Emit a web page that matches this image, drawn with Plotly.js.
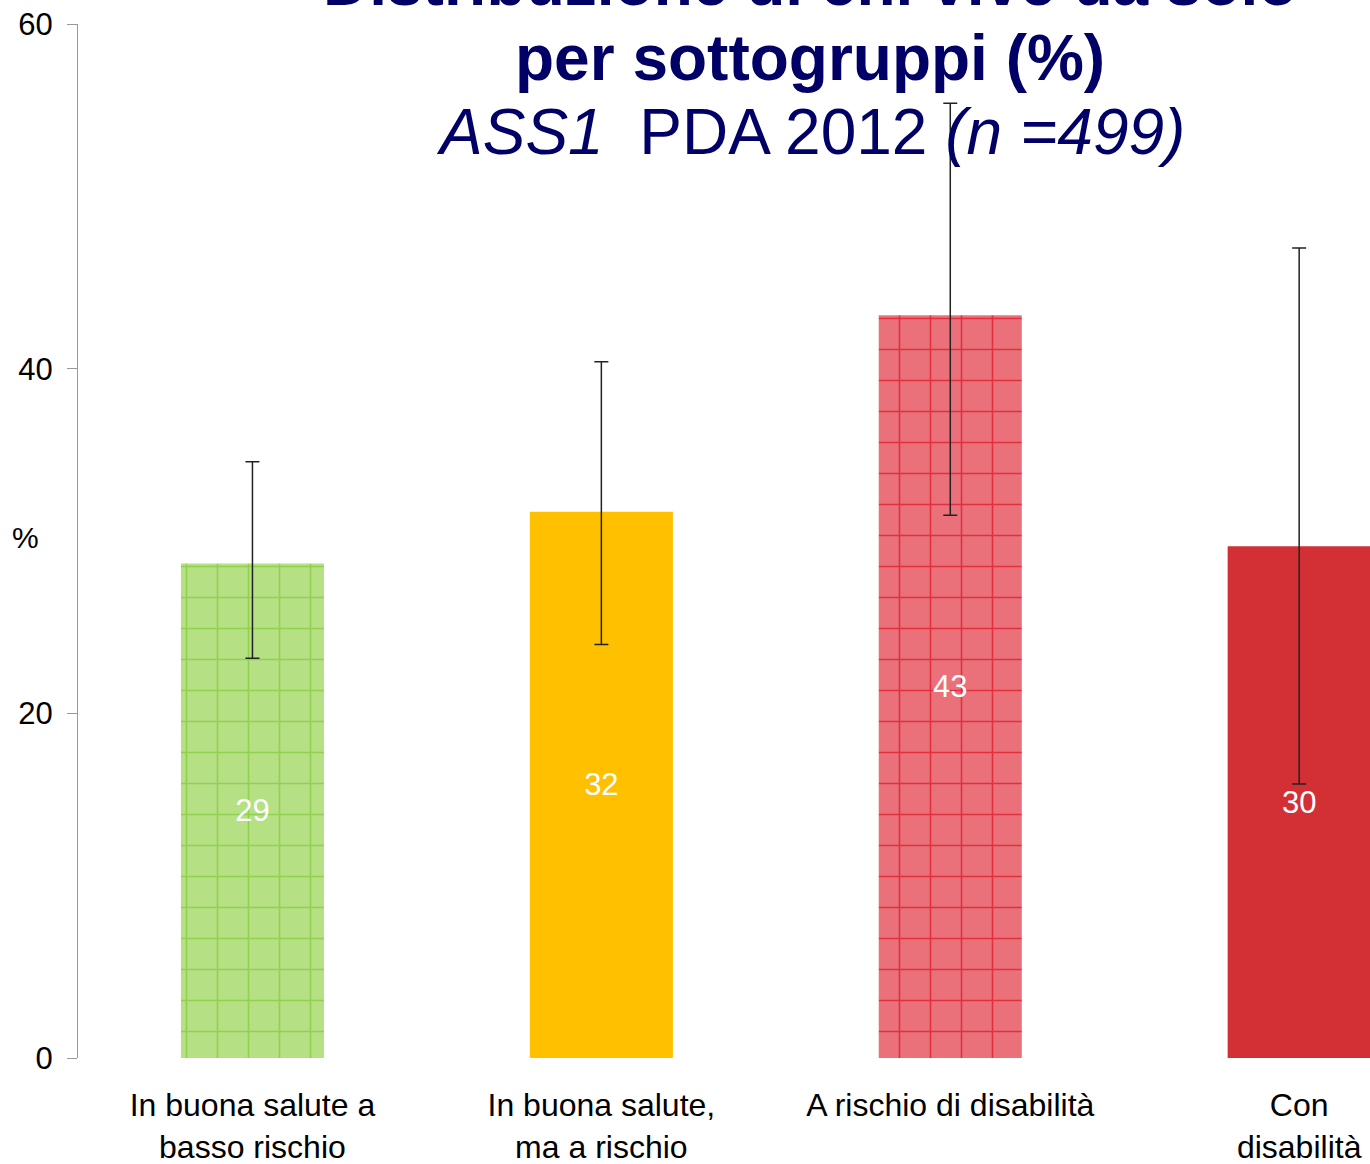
<!DOCTYPE html>
<html>
<head>
<meta charset="utf-8">
<script src="https://cdn.plot.ly/plotly-3.0.1.min.js"></script>
<style>html,body{margin:0;padding:0;background:#fff;}#chart{width:1370px;height:1164px;}</style>
</head>
<body>
<div id="chart"></div>
<script>
const categories = ["In buona salute a<br>basso rischio", "In buona salute,<br>ma a rischio", "A rischio di disabilità", "Con<br>disabilità"];
const values = [28.7, 31.7, 43.1, 29.7];
const ciLow = [23.2, 24.0, 31.5, 15.9];
const ciHigh = [34.6, 40.4, 55.4, 47.0];
const barColors = ["#b5e084", "#ffc000", "#ea7179", "#d33035"];
const patternShapes = ["+", "", "+", ""];
const patternColors = ["#92d050", "#ffc000", "#e0303e", "#d33035"];
const yTicks = [0, 20, 40, 60];
const titleLines = [
  "<b>Distribuzione di chi vive da solo</b>",
  "<b>per sottogruppi (%)</b>",
  "<i>ASS1</i>  PDA 2012 <i>(n =499)</i>"
];

const FONT = "Liberation Sans, Arial, sans-serif";

const traces = categories.map((c, i) => ({
  type: "bar",
  x: [c],
  y: [values[i]],
  width: 0.41,
  marker: {
    color: barColors[i],
    line: {width: 0},
    pattern: {shape: patternShapes[i], fgcolor: patternColors[i], bgcolor: barColors[i], fgopacity: 1, size: 31, solidity: 0.1, fillmode: "replace"}
  },
  error_y: {type: "data", symmetric: false, array: [ciHigh[i] - values[i]], arrayminus: [values[i] - ciLow[i]], color: "#222", thickness: 1.5, width: 7},
  texttemplate: "%{y:.0f}",
  textposition: "inside",
  insidetextanchor: "middle",
  textangle: 0,
  insidetextfont: {family: FONT, size: 31, color: "#ffffff"},
  hoverinfo: "skip"
}));

const titleShifts = [41, -34, -108];
const titleAnnotations = titleLines.map((t, i) => ({
  text: t,
  xref: "paper", yref: "paper",
  x: (810 - 78) / (1370 - 78), y: 1,
  xanchor: "center", yanchor: "middle",
  yshift: titleShifts[i],
  showarrow: false,
  font: {family: FONT, size: 64, color: "#000066"}
}));

const layout = {
  width: 1370,
  height: 1164,
  margin: {l: 78, r: 0, t: 24, b: 106},
  paper_bgcolor: "#ffffff",
  plot_bgcolor: "#ffffff",
  showlegend: false,
  barmode: "overlay",
  xaxis: {
    type: "category",
    categoryarray: categories,
    range: [-0.5, 3.203],
    showline: false,
    ticks: "",
    showgrid: false,
    zeroline: false,
    ticklabelstandoff: 25,
    tickfont: {family: FONT, size: 32, color: "#000"}
  },
  yaxis: {
    range: [0, 60],
    tickvals: yTicks,
    ticktext: yTicks.map(String),
    showline: true,
    linecolor: "#999",
    linewidth: 1,
    ticks: "outside",
    ticklen: 10,
    tickcolor: "#999",
    showgrid: false,
    zeroline: false,
    ticklabelstandoff: 8,
    tickfont: {family: FONT, size: 31, color: "#000"}
  },
  annotations: [{
    text: "%",
    xref: "paper", yref: "paper",
    x: 0, xshift: -53, y: 0.5, yshift: 4, xanchor: "center", yanchor: "middle",
    showarrow: false,
    font: {family: FONT, size: 30, color: "#000"}
  }].concat(titleAnnotations)
};

Plotly.newPlot("chart", traces, layout, {displayModeBar: false, staticPlot: true});
</script>
</body>
</html>
